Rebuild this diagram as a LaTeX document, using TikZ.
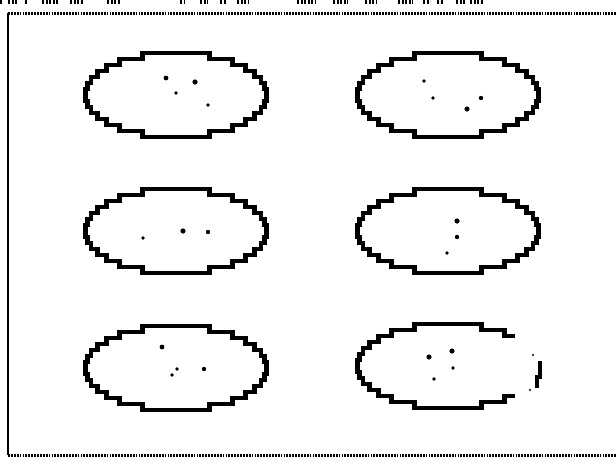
\documentclass[tikz,border=0pt]{standalone}
\usepackage{tikz}
\usetikzlibrary{calc}

\begin{document}
\begin{tikzpicture}[
  x=1pt, y=-1pt,
  oval/.style={line width=4.8pt, line join=miter},
  spot/.style={fill=black},
  rule/.style={line width=3pt, dash pattern=on 1.8pt off 1.1pt},
  header/.style={line width=4pt, dash pattern=on 2pt off 1.5pt},
  pixel oval/.pic={
    % stepped outline, 6pt rows
    \draw[oval] (0,-42)
      \foreach \k in {-7,-6,...,6} { -| ({91*sqrt(1-((\k+0.5)/7)^2)}, {6*\k+6}) }
      \foreach \k in {6,5,...,-7} { -| ({-91*sqrt(1-((\k+0.5)/7)^2)}, {6*\k}) }
      -- cycle;
  }
]
\useasboundingbox (0,0) rectangle (616,459);

% frame
\draw[line width=2.5pt] (8,13) -- (8,455);
\draw[rule] (8,13) -- (616,13);
\draw[rule] (8,455) -- (616,455);
\foreach \a/\b in {0/2, 8/18, 25/28, 42/59, 70/83, 107/121, 180/185, 200/208,
  220/227, 237/248, 297/316, 333/348, 365/377, 398/413, 423/430, 437/443,
  456/465, 470/483}
  \draw[header] (\a,2) -- (\b,2);

% ovals
\pic (o1) at (176,95) {pixel oval};
\pic (o2) at (448,95) {pixel oval};
\pic (o3) at (176,231) {pixel oval};
\pic (o4) at (448,231) {pixel oval};
\pic (o5) at (176,368) {pixel oval};
\pic (o6) at (448,366) {pixel oval};

% broken right side of the last oval
\fill[white] (515,316) rectangle (550,416);
\draw[oval, line width=3.5pt] (540,361) -- (540,377) -- (537,377) -- (537,388);
\fill[spot] (533,355) circle (1.2);
\fill[spot] (530,390) circle (1.2);

% spots
\fill[spot] (166,78) circle (2.4);
\fill[spot] (195,82) circle (2.6);
\fill[spot] (176,93) circle (1.8);
\fill[spot] (208,105) circle (1.8);

\fill[spot] (424,81) circle (1.8);
\fill[spot] (433,98) circle (1.8);
\fill[spot] (481,98) circle (2.2);
\fill[spot] (467,109) circle (2.6);

\fill[spot] (143,238) circle (1.8);
\fill[spot] (183,231) circle (2.6);
\fill[spot] (208,232) circle (2.2);

\fill[spot] (457,221) circle (2.6);
\fill[spot] (457,237) circle (2.2);
\fill[spot] (447,253) circle (1.8);

\fill[spot] (162,347) circle (2.4);
\fill[spot] (177,369) circle (1.8);
\fill[spot] (172,375) circle (1.8);
\fill[spot] (204,369) circle (2.2);

\fill[spot] (429,357) circle (2.6);
\fill[spot] (452,351) circle (2.6);
\fill[spot] (453,368) circle (1.8);
\fill[spot] (434,379) circle (1.8);

\end{tikzpicture}
\end{document}
